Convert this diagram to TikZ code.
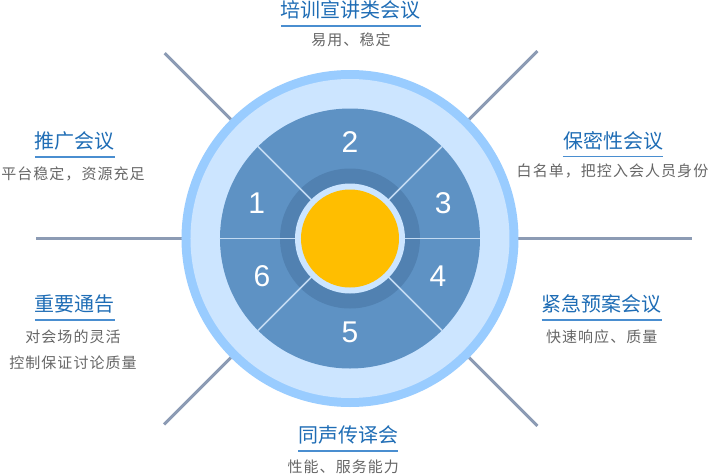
\documentclass[tikz,border=0pt]{standalone}
\usepackage{fontspec}
\setmainfont{Liberation Sans}
\newfontfamily\cjk{Noto Sans CJK SC}
\usetikzlibrary{positioning}
\definecolor{ringedge}{HTML}{99CCFF}
\definecolor{ringpale}{HTML}{CCE5FF}
\definecolor{segblue}{HTML}{5E92C4}
\definecolor{hubdark}{HTML}{5181B1}
\definecolor{hubyellow}{HTML}{FFBE00}
\definecolor{divblue}{HTML}{C2DAF2}
\definecolor{spokegray}{HTML}{8C9BB4}
\definecolor{titleblue}{HTML}{1F6DB5}
\definecolor{ulineblue}{HTML}{4A8ED0}
\definecolor{subgray}{HTML}{666666}
\begin{document}
\begin{tikzpicture}[x=1pt,y=1pt,
    title/.style={font=\cjk\fontsize{20}{20}\selectfont, text=titleblue, inner sep=0pt},
    sub/.style={font=\cjk\fontsize{15}{26.3}\selectfont\addfontfeature{LetterSpace=7}, text=subgray, inner sep=0pt, align=center},
    num/.style={font=\fontsize{30}{30}\selectfont, text=white, inner sep=0pt},
    spoke/.style={draw=spokegray, line width=3pt},
    divider/.style={draw=divblue, line width=1.6pt},
    uline/.style={draw=ulineblue, line width=1.2pt}]
        \useasboundingbox (-350,-236.5) rectangle (360,238.5);
        \draw[spoke] (135:168) -- (135:262);
        \draw[spoke] (45:168) -- (45:265);
        \draw[spoke] (-135:168) -- (-135:263);
        \draw[spoke] (-45:168) -- (-45:265);
        \draw[spoke] (-168,0) -- (-314,0);
        \draw[spoke] (168,0) -- (342,0);
        \fill[ringedge] (0,0) circle (168.5);
        \fill[ringpale] (0,0) circle (159.5);
        \fill[segblue] (0,0) circle (130);
        \fill[hubdark] (0,0) circle (70);
        \foreach \a in {0,45,135,180,225,315}
            \draw[divider] (\a:54) -- (\a:130);
        \fill[ringpale] (0,0) circle (55);
        \fill[hubyellow] (0,0) circle (49);
        \node[num] (n1) at (-93.3,35.2) {1};
        \node[num] (n2) at (0,96) {2};
        \node[num] (n3) at (93.3,35.2) {3};
        \node[num] (n4) at (88,-37.3) {4};
        \node[num] (n5) at (0,-93.5) {5};
        \node[num] (n6) at (-88,-37.3) {6};
        \node[title] (ttop) at (1,228.5) {培训宣讲类会议};
        \node[sub] (stop) at (1,198.5) {易用、稳定};
        \node[title] (tlt) at (-275,97.5) {推广会议};
        \node[sub] (slt) at (-277,64.5) {平台稳定，资源充足};
        \node[title] (trt) at (263,98) {保密性会议};
        \node[sub] (srt) at (262.5,67.5) {白名单，把控入会人员身份};
        \node[title] (tlb) at (-275,-65.5) {重要通告};
        \node[sub] (slb) at (-277,-111.4) {对会场的灵活\\控制保证讨论质量};
        \node[title] (trb) at (251.7,-65.5) {紧急预案会议};
        \node[sub] (srb) at (251.7,-98.5) {快速响应、质量};
        \node[title] (tbot) at (-1.7,-196.5) {同声传译会};
        \node[sub] (sbot) at (-6.7,-228.2) {性能、服务能力};
        \foreach \t in {ttop,tlt,trt,tlb,trb,tbot}
            \draw[uline] ([yshift=-16pt]\t.west) -- ([yshift=-16pt]\t.east);
    \end{tikzpicture}
\end{document}
